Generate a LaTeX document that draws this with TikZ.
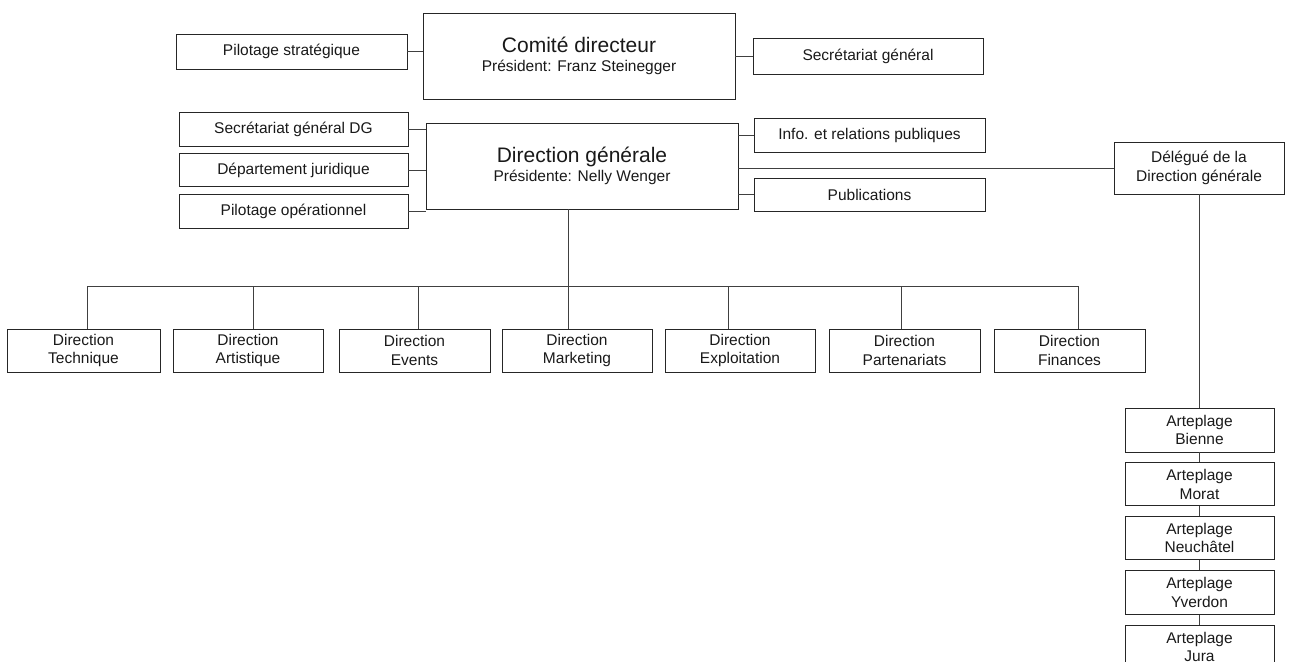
\documentclass[tikz,border=0pt]{standalone}
\usepackage{fontspec}
\setmainfont{Liberation Sans}
\usetikzlibrary{positioning}
\newcommand{\smallfont}{\fontsize{15.5}{18.5}\selectfont}
\newcommand{\bigfont}{\fontsize{21}{22}\selectfont}
\tikzset{
    objBox/.style={rectangle, draw=black!85, line width=0.8pt, inner sep=0pt, align=center, font=\smallfont, text=black!90},
    wideBox/.style={objBox, minimum width=231pt, minimum height=34pt},
    headBox/.style={objBox, minimum width=312pt, minimum height=86pt},
    dirBox/.style={objBox, minimum width=151pt, minimum height=43pt},
    siteBox/.style={objBox, minimum width=149pt, minimum height=44pt},
    line/.style={draw=black!75, line width=0.8pt}
}
\begin{document}
\begin{tikzpicture}[x=1pt, y=-1pt]
    \useasboundingbox (0,0) rectangle (1292,661);

    % top level
    \node (comite) [headBox] at (579,56) {{\bigfont Comité directeur}\\Président: Franz Steinegger};
    \node (pilS) [wideBox, minimum height=35pt] at (291.5,51.5) {Pilotage stratégique};
    \node (secG) [wideBox, minimum width=230pt, minimum height=36pt] at (868,56) {Secrétariat général};

    % direction generale
    \node (dg) [headBox] at (582,166) {{\bigfont Direction générale}\\Présidente: Nelly Wenger};
    \node (sgdg) [wideBox, minimum width=229pt] at (293.5,129) {Secrétariat général DG};
    \node (dj) [wideBox, minimum width=229pt, minimum height=33pt, below=7pt of sgdg] {Département juridique};
    \node (po) [wideBox, minimum width=229pt, below=7pt of dj] {Pilotage opérationnel};
    \node (info) [wideBox] at (869.5,135) {Info. et relations publiques};
    \node (pub) [wideBox, minimum height=33pt] at (869.5,194.5) {Publications};
    \node (delegue) [objBox, minimum width=170pt, minimum height=52pt] at (1199,168) {Délégué de la\\Direction générale};

    % directions
    \node (tech) [dirBox, minimum width=153pt] at (83.5,350.5) {Direction\\Technique};
    \node (art) [dirBox, minimum width=150pt] at (248,350.5) {Direction\\Artistique};
    \node (evt) [dirBox] at (414.5,350.5) {Direction\\Events};
    \node (mkt) [dirBox, minimum width=150pt] at (577,350.5) {Direction\\Marketing};
    \node (expl) [dirBox, minimum width=150pt] at (740,350.5) {Direction\\Exploitation};
    \node (part) [dirBox] at (904.5,350.5) {Direction\\Partenariats};
    \node (fin) [dirBox] at (1069.5,350.5) {Direction\\Finances};

    % arteplages
    \node (bienne) [siteBox] at (1199.5,430) {Arteplage\\Bienne};
    \node (morat) [siteBox, minimum height=43pt, below=10pt of bienne] {Arteplage\\Morat};
    \node (neuch) [siteBox, minimum height=43pt, below=10pt of morat] {Arteplage\\Neuchâtel};
    \node (yverdon) [siteBox, below=10pt of neuch] {Arteplage\\Yverdon};
    \node (jura) [siteBox, below=10pt of yverdon] {Arteplage\\Jura};

    % connectors
    \draw [line] (pilS.east) -- (pilS.east -| comite.west);
    \draw [line] (secG.west) -- (secG.west -| comite.east);
    \draw [line] (sgdg.east) -- (sgdg.east -| dg.west);
    \draw [line] (dj.east) -- (dj.east -| dg.west);
    \draw [line] (po.east) -- (po.east -| dg.west);
    \draw [line] (info.west) -- (info.west -| dg.east);
    \draw [line] (pub.west) -- (pub.west -| dg.east);
    \draw [line] (delegue.west) -- (delegue.west -| dg.east);

    \coordinate (bus) at (568,286);
    \draw [line] (bus |- dg.south) -- (bus);
    \foreach \n/\dx in {tech/3.5, art/5, evt/3.5, mkt/-9, expl/-12, part/-3.5, fin/8.5}
        \draw [line] (bus) -| ([xshift=\dx pt]\n.north);

    \draw [line] (delegue.south) -- (delegue.south |- bienne.north);
    \draw [line] (bienne) -- (morat);
    \draw [line] (morat) -- (neuch);
    \draw [line] (neuch) -- (yverdon);
    \draw [line] (yverdon) -- (jura);

\end{tikzpicture}
\end{document}
